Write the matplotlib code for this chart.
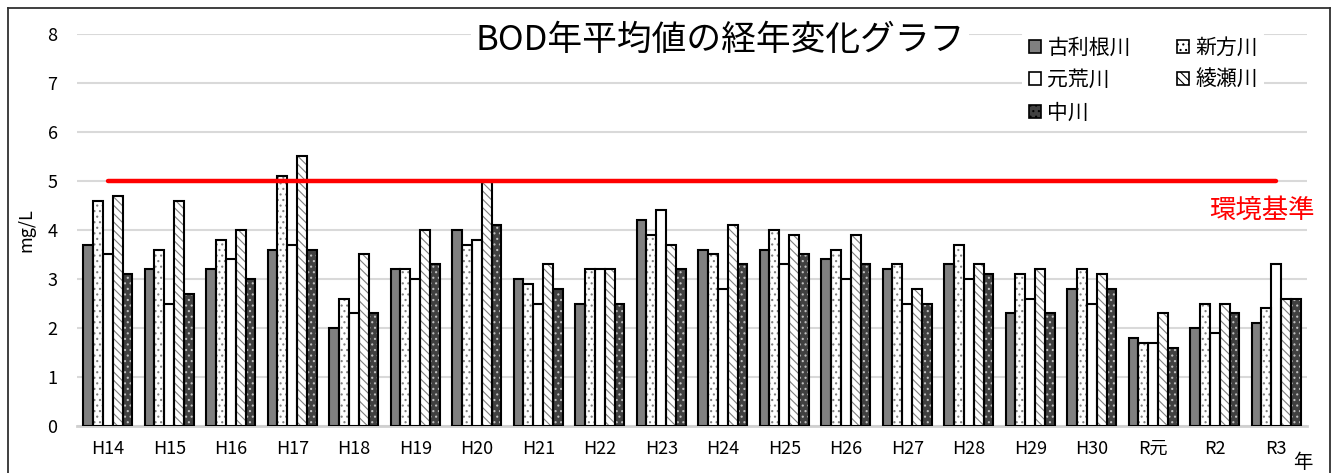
import matplotlib
matplotlib.use("Agg")
import matplotlib.pyplot as plt
import numpy as np
from matplotlib.patches import Patch
from matplotlib.lines import Line2D

plt.rcParams['font.family'] = ['Noto Sans CJK JP', 'DejaVu Sans']
plt.rcParams['hatch.linewidth'] = 0.8

years = ["H14", "H15", "H16", "H17", "H18", "H19", "H20", "H21", "H22", "H23",
         "H24", "H25", "H26", "H27", "H28", "H29", "H30", "R元", "R2", "R3"]
furutone = [3.7, 3.2, 3.2, 3.6, 2.0, 3.2, 4.0, 3.0, 2.5, 4.2, 3.6, 3.6, 3.4, 3.2, 3.3, 2.3, 2.8, 1.8, 2.0, 2.1]
shinkata = [4.6, 3.6, 3.8, 5.1, 2.6, 3.2, 3.7, 2.9, 3.2, 3.9, 3.5, 4.0, 3.6, 3.3, 3.7, 3.1, 3.2, 1.7, 2.5, 2.4]
motoara = [3.5, 2.5, 3.4, 3.7, 2.3, 3.0, 3.8, 2.5, 3.2, 4.4, 2.8, 3.3, 3.0, 2.5, 3.0, 2.6, 2.5, 1.7, 1.9, 3.3]
ayase = [4.7, 4.6, 4.0, 5.5, 3.5, 4.0, 5.0, 3.3, 3.2, 3.7, 4.1, 3.9, 3.9, 2.8, 3.3, 3.2, 3.1, 2.3, 2.5, 2.6]
nakagawa = [3.1, 2.7, 3.0, 3.6, 2.3, 3.3, 4.1, 2.8, 2.5, 3.2, 3.3, 3.5, 3.3, 2.5, 3.1, 2.3, 2.8, 1.6, 2.3, 2.6]
series_names = ["古利根川", "新方川", "元荒川", "綾瀬川", "中川"]
standard = 5.0
yticks = [0, 1, 2, 3, 4, 5, 6, 7, 8]

series = [furutone, shinkata, motoara, ayase, nakagawa]
styles = [
    dict(face="#808080", hatch=None, hc="#808080"),
    dict(face="white", hatch="...", hc="#7f7f7f"),
    dict(face="white", hatch=None, hc="white"),
    dict(face="white", hatch="\\\\\\\\", hc="#7f7f7f"),
    dict(face="#404040", hatch="...", hc="#c0c0c0"),
]

W, H = 1337, 473
fig = plt.figure(figsize=(W / 100, H / 100), dpi=100)
ax = fig.add_axes([77 / W, 1 - 426 / H, (1307 - 77) / W, (426 - 34) / H])

x = np.arange(len(years))
bw = 0.16
offsets = (np.arange(5) - 2) * bw
for i, (vals, st) in enumerate(zip(series, styles)):
    ax.bar(x + offsets[i], vals, bw, color=st["face"], edgecolor=st["hc"],
           hatch=st["hatch"], linewidth=0, zorder=2)
    ax.bar(x + offsets[i], vals, bw, fill=False, edgecolor="black",
           linewidth=1.5, zorder=3)

ax.plot([x[0], x[-1]], [standard, standard], color="#ff0000", lw=3.2,
        solid_capstyle="round", zorder=4)

ax.set_xlim(-0.5, len(years) - 0.5)
ax.set_ylim(0, 8)
ax.set_yticks(yticks)
ax.set_xticks(x)
ax.set_xticklabels(years)
ax.tick_params(axis="both", length=0, labelsize=13)
ax.tick_params(axis="y", pad=14)
ax.tick_params(axis="x", pad=10)
ax.grid(axis="y", color="#d9d9d9", lw=1.5, zorder=0)
ax.set_axisbelow(True)
for s in ["top", "right", "left"]:
    ax.spines[s].set_visible(False)
ax.spines["bottom"].set_color("#d0d0d0")
ax.spines["bottom"].set_linewidth(2)
ax.spines["bottom"].set_zorder(1)

ax.set_ylabel("mg/L", fontsize=13, labelpad=4)
ax.yaxis.set_label_coords(-0.034, 0.5)

# title
fig.text(720 / W, 1 - 40 / H, "BOD年平均値の経年変化グラフ", fontsize=25,
         ha="center", va="center",
         bbox=dict(facecolor="white", edgecolor="none", pad=3))

# standard label
fig.text(1262 / W, 1 - 210 / H, "環境基準", color="#ff0000", fontsize=19,
         ha="center", va="center",
         bbox=dict(facecolor="white", edgecolor="none", pad=2))

fig.text(1303 / W, 1 - 462 / H, "年", fontsize=14, ha="center", va="center")

# legend
handles = []
for st in styles:
    handles.append(Patch(facecolor=st["face"], edgecolor="black",
                         hatch=st["hatch"], linewidth=1.2))
order = [0, 2, 4, 1, 3]
leg = fig.legend([handles[i] for i in order], [series_names[i] for i in order],
                 ncol=2, loc="upper left", bbox_to_anchor=(1012 / W, 1 - 20 / H),
                 frameon=True, fontsize=15, handlelength=0.6, handleheight=0.6,
                 handletextpad=0.3, columnspacing=2.2, labelspacing=0.5,
                 borderpad=0.3)
leg.get_frame().set_facecolor("white")
leg.get_frame().set_edgecolor("none")
leg.get_frame().set_alpha(1)

# chart border
for (xs, ys) in [([8, 1330], [8, 8]), ([8, 8], [8, 473]), ([1330, 1330], [8, 473])]:
    fig.add_artist(Line2D([v / W for v in xs], [1 - v / H for v in ys],
                          color="#303030", lw=1.3))

fig.savefig("out.png", dpi=100)
